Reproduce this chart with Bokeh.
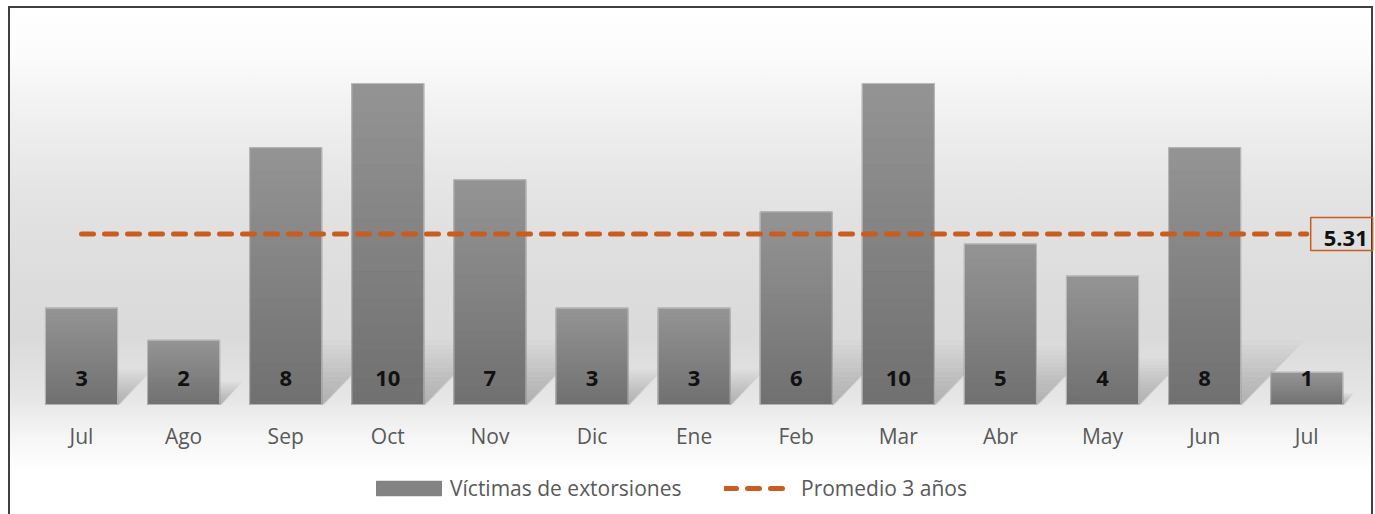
from bokeh.plotting import figure
from bokeh.models import ColumnDataSource, Legend, LegendItem, Label, Range1d
from bokeh.core.properties import value
from bokeh.embed import file_html
from bokeh.resources import INLINE

# ---- data ----
months = ["Jul", "Ago", "Sep", "Oct", "Nov", "Dic", "Ene", "Feb", "Mar", "Abr", "May", "Jun", "Jul"]
victims = [3, 2, 8, 10, 7, 3, 3, 6, 10, 5, 4, 8, 1]
average_3y = 5.31

series_bar = "Víctimas de extorsiones"
series_avg = "Promedio 3 años"

xs = list(range(len(months)))
FONT = "Open Sans"
BAR_W = 0.705
ORANGE = "#C95D20"

W, H = 1375, 514
# layout of the plotting area in pixels
X0_PX, STEP_PX = 81.0, 102.1      # centre of first category, category spacing
BASE_PX, UNIT_PX = 404.0, 32.1    # baseline row, pixels per unit

# gradient bars (light at top, dark at bottom) built as stacked slices of each bar
N = 24
top_rgb = (0x94, 0x94, 0x94)
bot_rgb = (0x70, 0x70, 0x70)
seg = dict(x=[], bottom=[], top=[], color=[])
for x, v in zip(xs, victims):
    for i in range(N):
        t = (i + 0.5) / N
        c = tuple(round(b + (tp - b) * t) for b, tp in zip(bot_rgb, top_rgb))
        seg["x"].append(x)
        seg["bottom"].append(v * i / N)
        seg["top"].append(v * (i + 1) / N)
        seg["color"].append("#%02x%02x%02x" % c)
seg_src = ColumnDataSource(seg)

# soft perspective shadows behind the bars (many translucent layers)
K = 14
sh_xs, sh_ys = [], []
for x, v in zip(xs, victims):
    h_px = min(64.0, 0.36 * v * UNIT_PX)
    for k in range(1, K + 1):
        hk = h_px * k / K
        d = hk / STEP_PX
        yk = hk / UNIT_PX
        e = 3.0 * (K - k) / K / STEP_PX
        l, r = x - BAR_W / 2, x + BAR_W / 2 + e
        sh_xs.append([l, r, r + d, l + d])
        sh_ys.append([0, 0, yk, yk])

x_range = Range1d(-X0_PX / STEP_PX, (W - X0_PX) / STEP_PX)
y_range = Range1d(-(H - BASE_PX) / UNIT_PX, BASE_PX / UNIT_PX)

p = figure(width=W, height=H, x_range=x_range, y_range=y_range,
           output_backend="svg", toolbar_location=None,
           min_border_left=0, min_border_right=0, min_border_top=0, min_border_bottom=0)

p.background_fill_alpha = 0
p.border_fill_alpha = 0
p.outline_line_color = None
p.styles = {
    "background": (
        "linear-gradient(#404040,#404040) 8px 6px / 1365px 2px no-repeat, "
        "linear-gradient(#404040,#404040) 8px 6px / 2px 520px no-repeat, "
        "linear-gradient(#404040,#404040) 1371px 6px / 2px 520px no-repeat, "
        "linear-gradient(to bottom, #ffffff 0px, #fbfbfb 50px, #f1f1f1 100px, #e3e3e3 190px, "
        "#dcdcdc 280px, #dadada 330px, #e6e6e6 390px, #f6f6f6 430px, #ffffff 465px) "
        "10px 8px / 1361px 510px no-repeat, #ffffff"
    )
}

p.patches(xs=sh_xs, ys=sh_ys, fill_color="#555555", fill_alpha=0.03, line_color=None)

bars = p.vbar(x="x", bottom="bottom", top="top", width=BAR_W, source=seg_src,
              fill_color="color", line_color="color", line_width=1.2)
p.vbar(x=xs, top=victims, width=BAR_W, fill_color=None, line_color="#c4c4c4", line_width=1, line_alpha=0.8)

avg_line = p.line(x=xs, y=[average_3y] * len(xs), line_color=ORANGE, line_width=5,
                  line_dash="12 11", line_cap="round")

# value labels inside the bars
p.text(x=xs, y=[0] * len(xs), text=[str(v) for v in victims], y_offset=-26,
       text_align="center", text_baseline="middle", text_font=value(FONT),
       text_font_style="bold", text_font_size="22px", text_color="#111111")

# category labels
p.text(x=xs, y=[0] * len(xs), text=months, y_offset=31,
       text_align="center", text_baseline="middle", text_font=value(FONT),
       text_font_size="21px", text_color="#595959")

lab = Label(x=xs[-1], y=average_3y, text="%.2f" % average_3y, x_offset=4,
            text_align="left", text_baseline="middle", text_font=FONT,
            text_font_style="bold", text_font_size="22px", text_color="#111111",
            border_line_color=ORANGE, border_line_width=1.5,
            padding=(13, 5, 13, 5))
p.add_layout(lab)

p.xaxis.visible = False
p.yaxis.visible = False
p.grid.visible = False


def style_legend(lg):
    lg.background_fill_alpha = 0
    lg.border_line_color = None
    lg.label_text_font = FONT
    lg.label_text_font_size = "21px"
    lg.label_text_color = "#595959"
    lg.margin = 0
    lg.padding = 4


legend_bar = Legend(items=[LegendItem(label=series_bar, renderers=[bars], index=N // 2)],
                    orientation="horizontal", location=(368, 12))
style_legend(legend_bar)
legend_bar.glyph_width = 81
legend_bar.glyph_height = 18
legend_bar.label_standoff = 1
p.add_layout(legend_bar)

legend_avg = Legend(items=[LegendItem(label=series_avg, renderers=[avg_line])],
                    orientation="horizontal", location=(724, 12))
style_legend(legend_avg)
legend_avg.glyph_width = 65
legend_avg.glyph_height = 18
legend_avg.label_standoff = 12
p.add_layout(legend_avg)

open("out.html", "w").write(file_html(p, INLINE))
